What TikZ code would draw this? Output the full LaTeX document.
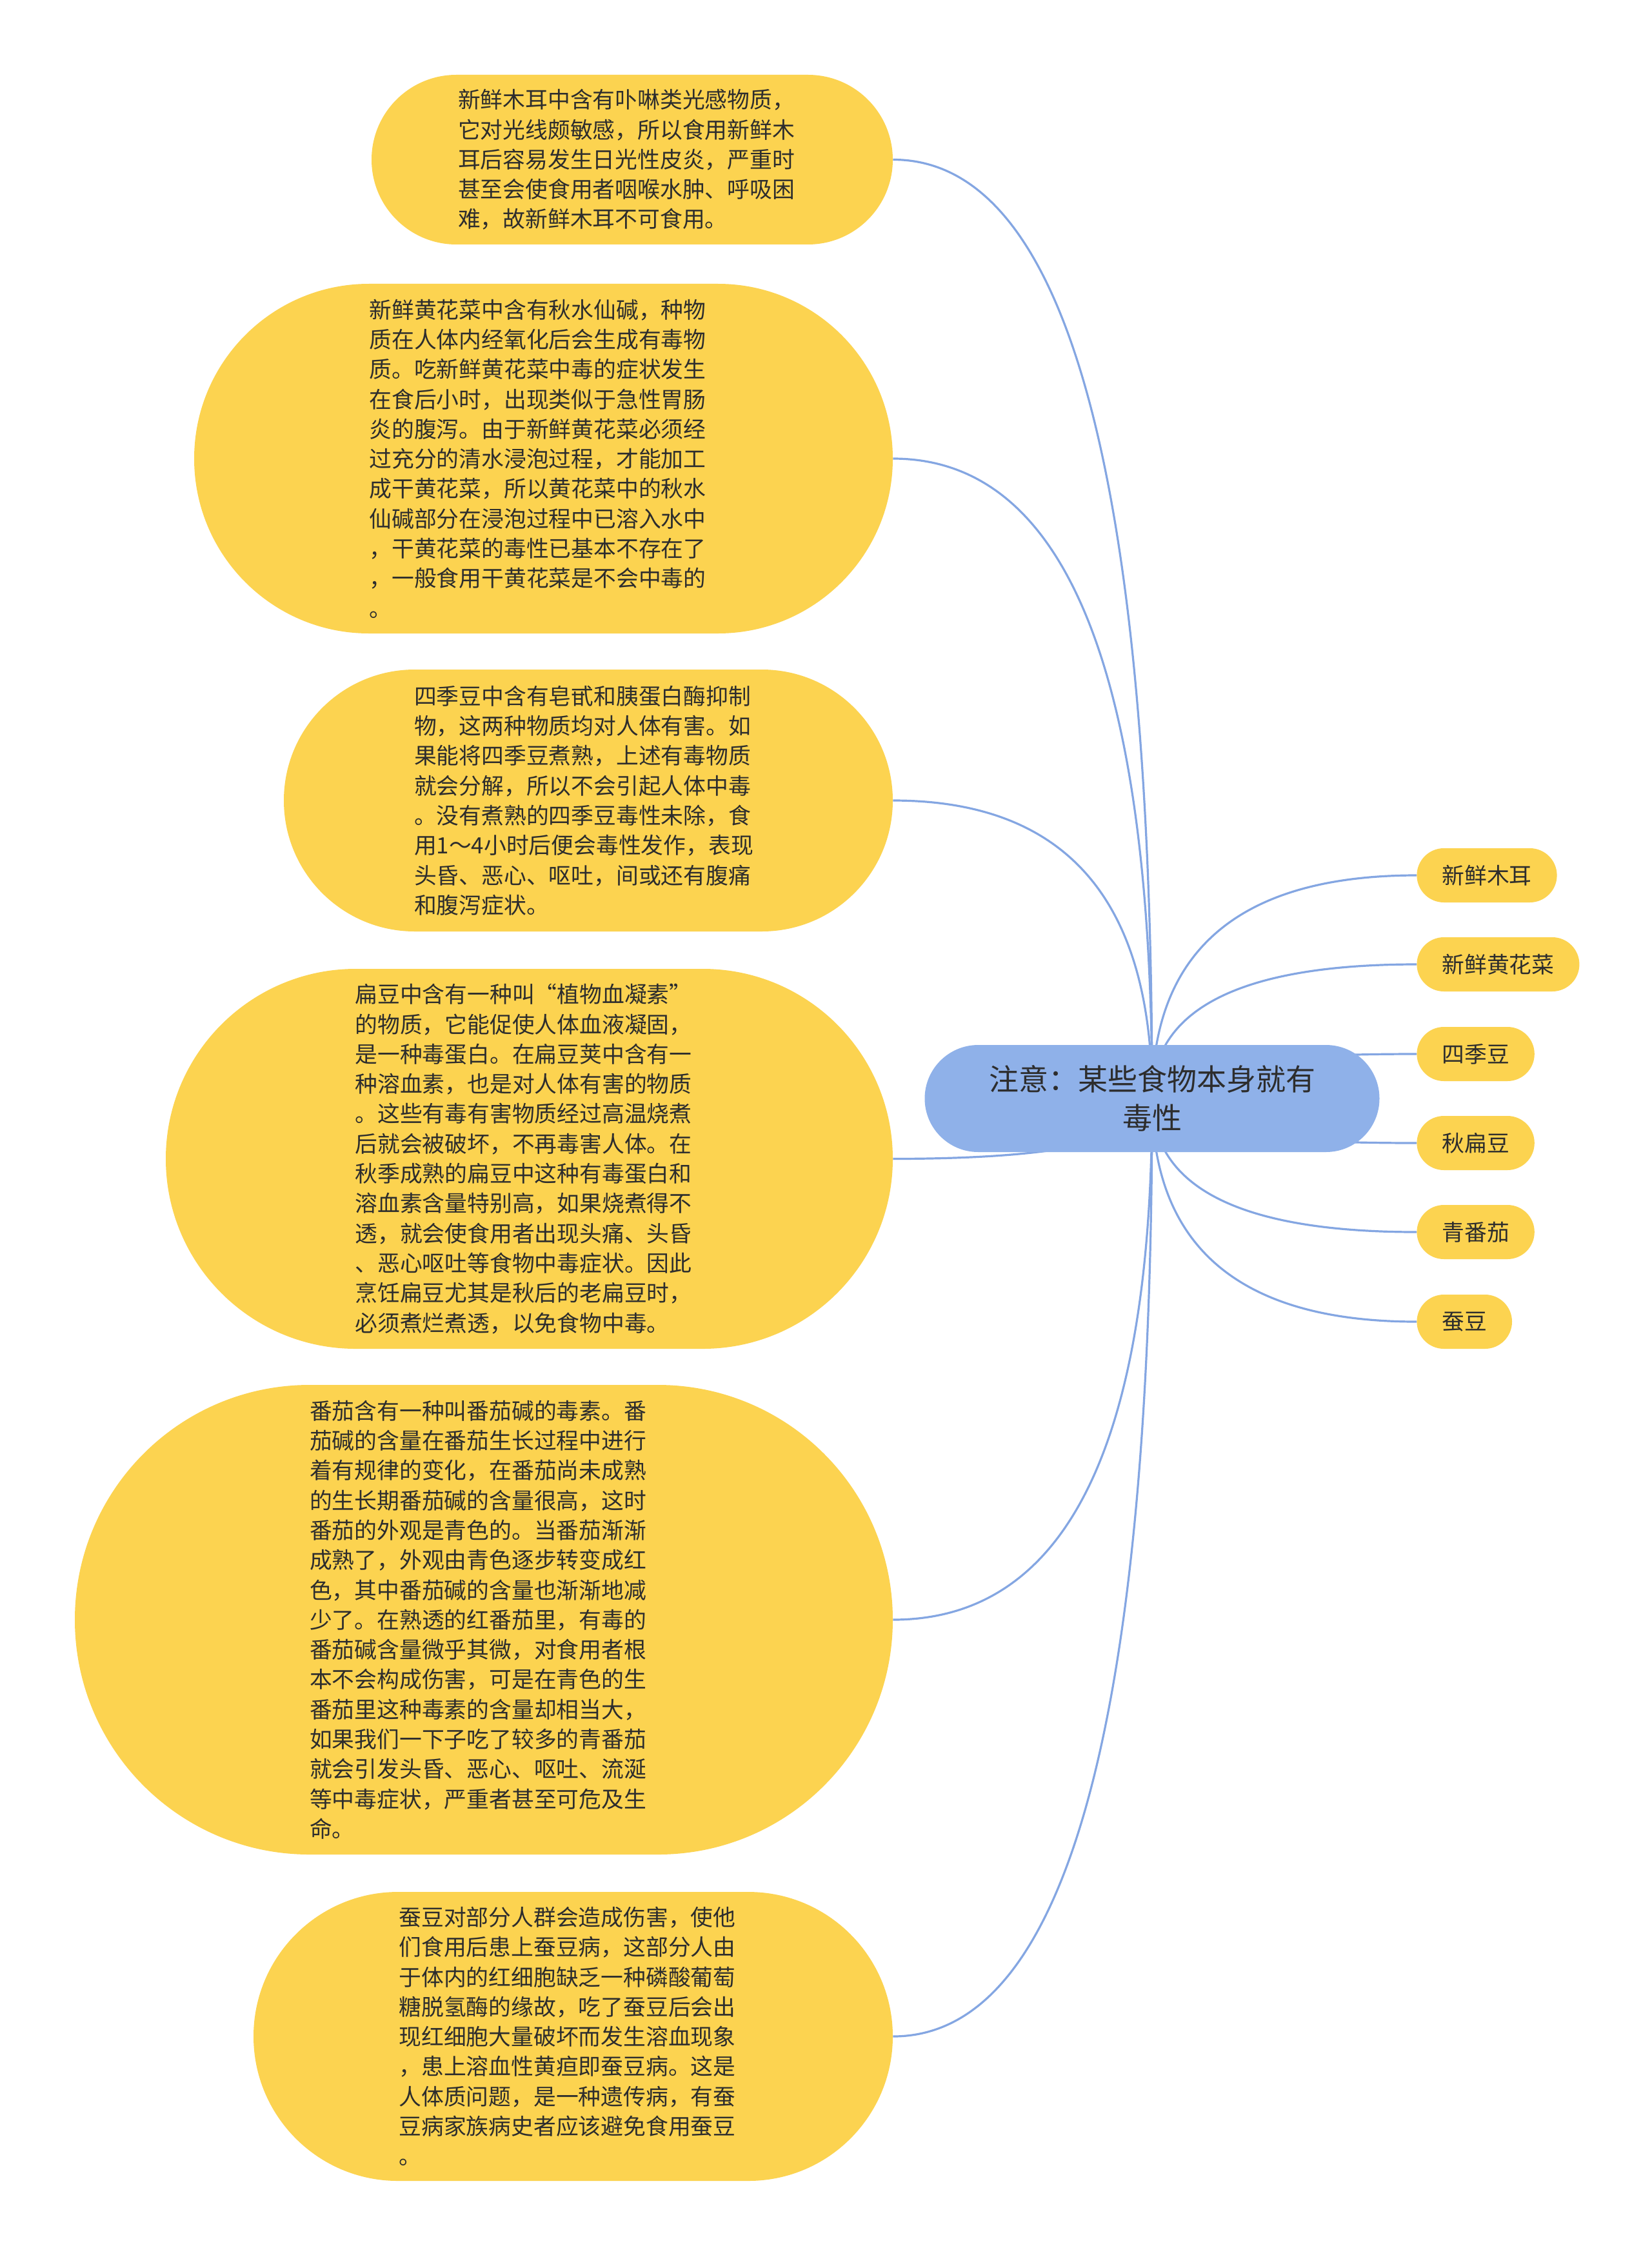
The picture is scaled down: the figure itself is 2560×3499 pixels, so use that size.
\documentclass[tikz,border=0pt]{standalone}
\usepackage{fontspec}
\setmainfont{Noto Sans CJK SC}
\usetikzlibrary{calc,backgrounds}
\definecolor{leafyellow}{RGB}{252,211,80}
\definecolor{rootblue}{RGB}{143,177,233}
\definecolor{linkblue}{RGB}{132,166,226}
\definecolor{txt}{RGB}{45,45,45}
\newcommand\mylink[3]{\draw[link] (#1) .. controls ($(#1)!0.6667!(#2)$) and ($(#3)!0.6667!(#2)$) .. (#3);}
\begin{document}
\begin{tikzpicture}[x=0.5pt,y=-0.5pt,
  desc/.style={fill=leafyellow, draw=none, inner sep=0pt, text width=270pt, align=left, text=txt, font=\fontsize{17.4}{23.15}\selectfont},
  leaf/.style={fill=leafyellow, inner xsep=19.5pt, inner ysep=0pt, minimum height=42pt, rounded corners=21pt, anchor=west, text=txt, font=\fontsize{17.4}{20}\selectfont},
  root/.style={fill=rootblue, minimum width=352.5pt, minimum height=83pt, rounded corners=41.5pt, align=center, text=txt, font=\fontsize{23}{30}\selectfont},
  link/.style={draw=linkblue, line width=1.6pt}]
\useasboundingbox (0,0) rectangle (2560,3499);

% root
\node[root] (c) at (1786,1703) {注意：某些食物本身就有\\毒性};

% right leaves
\node[leaf] (l1) at (2196,1357) {新鲜木耳};
\node[leaf] (l2) at (2196,1495) {新鲜黄花菜};
\node[leaf] (l3) at (2196,1634) {四季豆};
\node[leaf] (l4) at (2196,1772) {秋扁豆};
\node[leaf] (l5) at (2196,1910) {青番茄};
\node[leaf] (l6) at (2196,2049) {蚕豆};

% descriptions
\node[desc, minimum width=404pt, minimum height=131.5pt, rounded corners=65.75pt] (d1) at (980,247.5) {新鲜木耳中含有卟啉类光感物质，\\它对光线颇敏感，所以食用新鲜木\\耳后容易发生日光性皮炎，严重时\\甚至会使食用者咽喉水肿、呼吸困\\难，故新鲜木耳不可食用。};

\node[desc, minimum width=541.5pt, minimum height=271pt, rounded corners=135.5pt] (d2) at (842.5,711) {新鲜黄花菜中含有秋水仙碱，种物\\质在人体内经氧化后会生成有毒物\\质。吃新鲜黄花菜中毒的症状发生\\在食后小时，出现类似于急性胃肠\\炎的腹泻。由于新鲜黄花菜必须经\\过充分的清水浸泡过程，才能加工\\成干黄花菜，所以黄花菜中的秋水\\仙碱部分在浸泡过程中已溶入水中\\，干黄花菜的毒性已基本不存在了\\，一般食用干黄花菜是不会中毒的\\。};

\node[desc, minimum width=472pt, minimum height=203pt, rounded corners=101.5pt] (d3) at (912,1241) {四季豆中含有皂甙和胰蛋白酶抑制\\物，这两种物质均对人体有害。如\\果能将四季豆煮熟，上述有毒物质\\就会分解，所以不会引起人体中毒\\。没有煮熟的四季豆毒性未除，食\\用1～4小时后便会毒性发作，表现\\头昏、恶心、呕吐，间或还有腹痛\\和腹泻症状。};

\node[desc, minimum width=563.5pt, minimum height=294.5pt, rounded corners=147.25pt] (d4) at (820.5,1796.5) {扁豆中含有一种叫“植物血凝素”\\的物质，它能促使人体血液凝固，\\是一种毒蛋白。在扁豆荚中含有一\\种溶血素，也是对人体有害的物质\\。这些有毒有害物质经过高温烧煮\\后就会被破坏，不再毒害人体。在\\秋季成熟的扁豆中这种有毒蛋白和\\溶血素含量特别高，如果烧煮得不\\透，就会使食用者出现头痛、头昏\\、恶心呕吐等食物中毒症状。因此\\烹饪扁豆尤其是秋后的老扁豆时，\\必须煮烂煮透，以免食物中毒。};

\node[desc, minimum width=634pt, minimum height=364pt, rounded corners=182pt] (d5) at (750,2511) {番茄含有一种叫番茄碱的毒素。番\\茄碱的含量在番茄生长过程中进行\\着有规律的变化，在番茄尚未成熟\\的生长期番茄碱的含量很高，这时\\番茄的外观是青色的。当番茄渐渐\\成熟了，外观由青色逐步转变成红\\色，其中番茄碱的含量也渐渐地减\\少了。在熟透的红番茄里，有毒的\\番茄碱含量微乎其微，对食用者根\\本不会构成伤害，可是在青色的生\\番茄里这种毒素的含量却相当大，\\如果我们一下子吃了较多的青番茄\\就会引发头昏、恶心、呕吐、流涎\\等中毒症状，严重者甚至可危及生\\命。};

\node[desc, minimum width=495.5pt, minimum height=224pt, rounded corners=112pt] (d6) at (888.5,3157) {蚕豆对部分人群会造成伤害，使他\\们食用后患上蚕豆病，这部分人由\\于体内的红细胞缺乏一种磷酸葡萄\\糖脱氢酶的缘故，吃了蚕豆后会出\\现红细胞大量破坏而发生溶血现象\\，患上溶血性黄疸即蚕豆病。这是\\人体质问题，是一种遗传病，有蚕\\豆病家族病史者应该避免食用蚕豆\\。};

% corners for curves
\foreach \i in {1,...,6} {
  \coordinate (kr\i) at (c.center |- l\i.west);
  \coordinate (kd\i) at (c.center |- d\i.east);
}

\begin{scope}[on background layer]
  \fill[white] (0,0) rectangle (2560,3499);
  \foreach \i in {1,...,6} {
    \mylink{c.center}{kr\i}{l\i.west}
    \mylink{d\i.east}{kd\i}{c.center}
  }
\end{scope}
\end{tikzpicture}
\end{document}
